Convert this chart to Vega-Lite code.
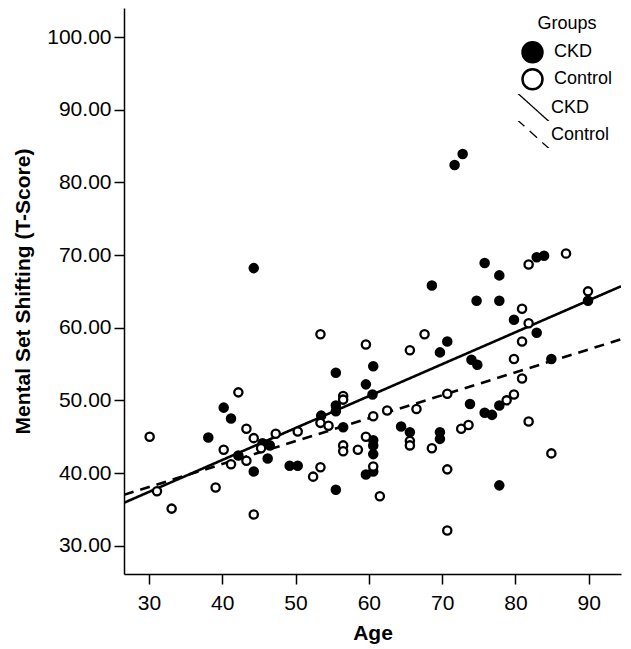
{
  "$schema": "https://vega.github.io/schema/vega-lite/v6.json",
  "width": 497,
  "height": 566,
  "autosize": "none",
  "padding": {"left": 124, "top": 8, "right": 10, "bottom": 75},
  "background": "white",
  "config": {
    "view": {"stroke": null},
    "font": "Liberation Sans",
    "axis": {
      "grid": false,
      "domainColor": "black",
      "tickColor": "black",
      "labelColor": "black",
      "titleColor": "black",
      "domainWidth": 1.5,
      "tickWidth": 1.5,
      "tickSize": 10,
      "labelFont": "Liberation Sans",
      "titleFont": "Liberation Sans",
      "labelFontSize": 21,
      "titleFontSize": 21,
      "titleFontWeight": "bold"
    },
    "legend": {"labelFont": "Liberation Sans", "titleFont": "Liberation Sans", "labelColor": "black", "titleColor": "black"}
  },
  "datasets": {
    "points": [
      {"Age": 38.1, "Score": 44.9, "Group": "CKD"},
      {"Age": 40.2, "Score": 49.0, "Group": "CKD"},
      {"Age": 41.2, "Score": 47.5, "Group": "CKD"},
      {"Age": 42.2, "Score": 42.4, "Group": "CKD"},
      {"Age": 44.3, "Score": 68.2, "Group": "CKD"},
      {"Age": 44.3, "Score": 40.2, "Group": "CKD"},
      {"Age": 45.5, "Score": 44.1, "Group": "CKD"},
      {"Age": 46.5, "Score": 43.8, "Group": "CKD"},
      {"Age": 46.2, "Score": 42.0, "Group": "CKD"},
      {"Age": 49.2, "Score": 41.0, "Group": "CKD"},
      {"Age": 50.3, "Score": 41.0, "Group": "CKD"},
      {"Age": 53.5, "Score": 47.9, "Group": "CKD"},
      {"Age": 55.5, "Score": 49.3, "Group": "CKD"},
      {"Age": 55.5, "Score": 48.5, "Group": "CKD"},
      {"Age": 55.5, "Score": 53.8, "Group": "CKD"},
      {"Age": 56.5, "Score": 46.3, "Group": "CKD"},
      {"Age": 55.5, "Score": 37.7, "Group": "CKD"},
      {"Age": 59.6, "Score": 52.2, "Group": "CKD"},
      {"Age": 60.6, "Score": 54.7, "Group": "CKD"},
      {"Age": 60.5, "Score": 50.8, "Group": "CKD"},
      {"Age": 60.6, "Score": 44.5, "Group": "CKD"},
      {"Age": 60.6, "Score": 43.8, "Group": "CKD"},
      {"Age": 60.6, "Score": 42.6, "Group": "CKD"},
      {"Age": 60.6, "Score": 40.2, "Group": "CKD"},
      {"Age": 59.6, "Score": 39.8, "Group": "CKD"},
      {"Age": 64.4, "Score": 46.4, "Group": "CKD"},
      {"Age": 65.6, "Score": 45.6, "Group": "CKD"},
      {"Age": 69.7, "Score": 45.6, "Group": "CKD"},
      {"Age": 69.7, "Score": 44.7, "Group": "CKD"},
      {"Age": 69.7, "Score": 56.6, "Group": "CKD"},
      {"Age": 70.7, "Score": 58.1, "Group": "CKD"},
      {"Age": 68.6, "Score": 65.8, "Group": "CKD"},
      {"Age": 71.7, "Score": 82.4, "Group": "CKD"},
      {"Age": 72.8, "Score": 83.9, "Group": "CKD"},
      {"Age": 73.8, "Score": 49.5, "Group": "CKD"},
      {"Age": 74.0, "Score": 55.6, "Group": "CKD"},
      {"Age": 74.8, "Score": 54.9, "Group": "CKD"},
      {"Age": 74.7, "Score": 63.7, "Group": "CKD"},
      {"Age": 75.8, "Score": 68.9, "Group": "CKD"},
      {"Age": 77.8, "Score": 67.2, "Group": "CKD"},
      {"Age": 77.8, "Score": 63.7, "Group": "CKD"},
      {"Age": 75.8, "Score": 48.3, "Group": "CKD"},
      {"Age": 76.8, "Score": 48.0, "Group": "CKD"},
      {"Age": 77.8, "Score": 49.3, "Group": "CKD"},
      {"Age": 77.8, "Score": 38.3, "Group": "CKD"},
      {"Age": 79.8, "Score": 61.1, "Group": "CKD"},
      {"Age": 82.9, "Score": 59.3, "Group": "CKD"},
      {"Age": 82.9, "Score": 69.7, "Group": "CKD"},
      {"Age": 83.9, "Score": 69.9, "Group": "CKD"},
      {"Age": 84.9, "Score": 55.7, "Group": "CKD"},
      {"Age": 89.9, "Score": 63.7, "Group": "CKD"},
      {"Age": 30.1, "Score": 45.0, "Group": "Control"},
      {"Age": 31.1, "Score": 37.5, "Group": "Control"},
      {"Age": 33.1, "Score": 35.1, "Group": "Control"},
      {"Age": 39.1, "Score": 38.0, "Group": "Control"},
      {"Age": 40.2, "Score": 43.2, "Group": "Control"},
      {"Age": 41.2, "Score": 41.2, "Group": "Control"},
      {"Age": 42.2, "Score": 51.1, "Group": "Control"},
      {"Age": 43.3, "Score": 46.1, "Group": "Control"},
      {"Age": 43.3, "Score": 41.7, "Group": "Control"},
      {"Age": 44.3, "Score": 44.8, "Group": "Control"},
      {"Age": 44.3, "Score": 34.3, "Group": "Control"},
      {"Age": 45.3, "Score": 43.4, "Group": "Control"},
      {"Age": 47.3, "Score": 45.4, "Group": "Control"},
      {"Age": 50.3, "Score": 45.7, "Group": "Control"},
      {"Age": 52.4, "Score": 39.5, "Group": "Control"},
      {"Age": 53.4, "Score": 40.8, "Group": "Control"},
      {"Age": 53.4, "Score": 59.1, "Group": "Control"},
      {"Age": 53.4, "Score": 46.9, "Group": "Control"},
      {"Age": 54.5, "Score": 46.5, "Group": "Control"},
      {"Age": 56.5, "Score": 50.6, "Group": "Control"},
      {"Age": 56.5, "Score": 50.1, "Group": "Control"},
      {"Age": 56.5, "Score": 43.8, "Group": "Control"},
      {"Age": 56.5, "Score": 43.0, "Group": "Control"},
      {"Age": 58.5, "Score": 43.2, "Group": "Control"},
      {"Age": 59.6, "Score": 57.7, "Group": "Control"},
      {"Age": 59.6, "Score": 45.0, "Group": "Control"},
      {"Age": 60.6, "Score": 47.8, "Group": "Control"},
      {"Age": 60.6, "Score": 40.9, "Group": "Control"},
      {"Age": 61.5, "Score": 36.8, "Group": "Control"},
      {"Age": 62.5, "Score": 48.6, "Group": "Control"},
      {"Age": 65.6, "Score": 56.9, "Group": "Control"},
      {"Age": 65.6, "Score": 44.4, "Group": "Control"},
      {"Age": 65.6, "Score": 43.8, "Group": "Control"},
      {"Age": 66.5, "Score": 48.8, "Group": "Control"},
      {"Age": 67.6, "Score": 59.1, "Group": "Control"},
      {"Age": 68.6, "Score": 43.4, "Group": "Control"},
      {"Age": 70.7, "Score": 50.9, "Group": "Control"},
      {"Age": 70.7, "Score": 40.5, "Group": "Control"},
      {"Age": 70.7, "Score": 32.1, "Group": "Control"},
      {"Age": 72.6, "Score": 46.1, "Group": "Control"},
      {"Age": 73.6, "Score": 46.6, "Group": "Control"},
      {"Age": 78.8, "Score": 50.0, "Group": "Control"},
      {"Age": 79.8, "Score": 50.8, "Group": "Control"},
      {"Age": 79.8, "Score": 55.7, "Group": "Control"},
      {"Age": 80.9, "Score": 62.6, "Group": "Control"},
      {"Age": 81.8, "Score": 60.6, "Group": "Control"},
      {"Age": 80.9, "Score": 58.1, "Group": "Control"},
      {"Age": 80.9, "Score": 53.0, "Group": "Control"},
      {"Age": 81.8, "Score": 47.1, "Group": "Control"},
      {"Age": 81.8, "Score": 68.7, "Group": "Control"},
      {"Age": 84.9, "Score": 42.7, "Group": "Control"},
      {"Age": 86.9, "Score": 70.2, "Group": "Control"},
      {"Age": 89.9, "Score": 65.0, "Group": "Control"}
    ],
    "fits": [
      {"Age": 26.6, "Score": 35.9, "Fit": "CKD fit"},
      {"Age": 94.4, "Score": 65.7, "Fit": "CKD fit"},
      {"Age": 26.6, "Score": 37.0, "Fit": "Control fit"},
      {"Age": 94.4, "Score": 58.4, "Fit": "Control fit"}
    ]
  },
  "layer": [
    {
      "data": {"name": "fits"},
      "mark": {"type": "line", "color": "black", "strokeWidth": 2.6, "clip": true},
      "encoding": {
        "x": {"field": "Age", "type": "quantitative", "scale": {"domain": [26.6, 94.4], "nice": false, "zero": false}, "axis": {"title": "Age", "values": [30, 40, 50, 60, 70, 80, 90], "labelPadding": 8, "titlePadding": 9}},
        "y": {"field": "Score", "type": "quantitative", "scale": {"domain": [26.1, 104], "nice": false, "zero": false}, "axis": {"title": "Mental Set Shifting (T-Score)", "values": [30, 40, 50, 60, 70, 80, 90, 100], "format": ".2f", "labelPadding": 3, "titlePadding": 13}},
        "strokeDash": {
          "field": "Fit", "type": "nominal",
          "scale": {"domain": ["CKD fit", "Control fit"], "range": [[1, 0], [10, 7]]},
          "legend": {
            "title": null, "orient": "none", "legendX": 392, "legendY": 86,
            "labelExpr": "replace(datum.label, ' fit', '')",
            "symbolType": "M-1,-0.9L1,0.9", "symbolSize": 1089, "symbolStrokeColor": "black", "symbolStrokeWidth": 1.3,
            "labelFontSize": 18, "labelOffset": 0, "rowPadding": 0, "clipHeight": 27
          }
        }
      }
    },
    {
      "data": {"name": "points"},
      "mark": {"type": "circle", "stroke": "black", "strokeWidth": 2.3, "size": 68, "opacity": 1},
      "encoding": {
        "x": {"field": "Age", "type": "quantitative"},
        "y": {"field": "Score", "type": "quantitative"},
        "fill": {
          "field": "Group", "type": "nominal",
          "scale": {"domain": ["CKD", "Control"], "range": ["black", "white"]},
          "legend": {
            "title": "Groups", "orient": "none", "legendX": 397, "legendY": 7,
            "titleFontSize": 18, "titleFontWeight": "normal", "titleAnchor": "middle", "titlePadding": 7,
            "symbolType": "circle", "symbolSize": 400, "symbolStrokeColor": "black", "symbolStrokeWidth": 2.5, "symbolOpacity": 1,
            "labelFontSize": 18, "labelOffset": 10, "rowPadding": 2, "clipHeight": 24.6
          }
        }
      }
    }
  ]
}
